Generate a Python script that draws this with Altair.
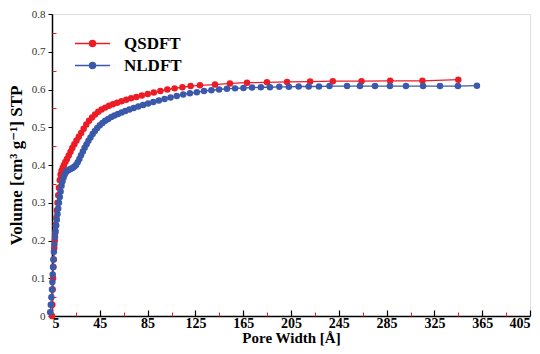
import altair as alt
import pandas as pd

# QSDFT (red) cumulative pore volume
q_x = [5.0, 5.3, 5.6, 5.9, 6.2, 6.5, 6.9, 7.3, 7.7, 8.1, 8.6, 9.1, 9.6, 10.2, 10.8,
       11.5, 12.2, 13.0, 14.0, 15.0, 16.2, 17.5, 19.0, 20.5, 22.0, 23.7, 25.5, 27.4,
       29.4, 31.5, 33.7, 36.0, 38.5, 41.0, 43.7, 46.5, 49.5, 52.7, 56.0, 59.5, 63.2,
       67.1, 71.2, 75.6, 80.2, 85.1, 90.2, 95.7, 101.5, 107.6, 114.1, 121.0, 128.8,
       141.4, 153.9, 168.2, 184.9, 201.7, 221.0, 240.0, 264.0, 288.0, 315.0, 345.0]
q_v = [0.0, 0.03, 0.07, 0.10, 0.13, 0.15, 0.18, 0.20, 0.22, 0.24, 0.26, 0.28, 0.30, 0.32, 0.34,
       0.36, 0.375, 0.385, 0.393, 0.40, 0.408, 0.416, 0.425, 0.435, 0.445, 0.455, 0.465, 0.475,
       0.485, 0.496, 0.507, 0.517, 0.526, 0.534, 0.541, 0.547, 0.552, 0.557, 0.561, 0.565, 0.569,
       0.573, 0.577, 0.580, 0.584, 0.588, 0.592, 0.596, 0.600, 0.603, 0.606, 0.609, 0.611,
       0.613, 0.616, 0.618, 0.619, 0.620, 0.621, 0.622, 0.622, 0.623, 0.623, 0.626]

# NLDFT (blue)
n_x = [3.5, 4.0, 4.5, 5.0, 5.3, 5.6, 5.9, 6.2, 6.6, 7.0, 7.5, 8.0, 8.5, 9.0, 9.6, 10.2,
       10.8, 11.5, 12.2, 13.0, 13.8, 14.7, 15.6, 16.6, 17.7, 18.8, 20.0, 21.2, 22.5, 23.8,
       25.1, 26.5, 27.9, 29.3, 30.8, 32.3, 33.9, 35.5, 37.2, 39.0, 40.9, 42.9, 45.0, 47.2,
       49.5, 52.0, 54.6, 57.3, 60.2, 63.2, 66.4, 69.8, 73.4, 77.2, 81.2, 85.4, 89.8, 94.4,
       99.2, 104.2, 109.4, 114.8, 120.4, 126.2, 132.2, 138.4, 144.8, 151.4, 158.2, 165.2,
       172.4, 179.8, 187.4, 195.2, 203.2, 211.4, 219.8, 228.4, 237.2, 251.9, 262.7, 275.3,
       287.8, 301.2, 315.5, 329.7, 344.7, 360.6]
n_v = [0.01, 0.03, 0.05, 0.07, 0.09, 0.11, 0.13, 0.15, 0.17, 0.19, 0.21, 0.225, 0.24, 0.255,
       0.27, 0.285, 0.30, 0.315, 0.33, 0.345, 0.357, 0.367, 0.375, 0.381, 0.385, 0.387, 0.389,
       0.391, 0.393, 0.396, 0.40, 0.407, 0.416, 0.426, 0.436, 0.446, 0.455, 0.464, 0.473, 0.482,
       0.490, 0.498, 0.505, 0.511, 0.517, 0.522, 0.527, 0.531, 0.535, 0.539, 0.543, 0.547,
       0.551, 0.555, 0.559, 0.563, 0.567, 0.571, 0.575, 0.579, 0.583, 0.587, 0.590, 0.593,
       0.596, 0.598, 0.600, 0.602, 0.603, 0.604, 0.605, 0.606, 0.606, 0.607, 0.607, 0.608,
       0.608, 0.608, 0.609, 0.609, 0.609, 0.609, 0.609, 0.609, 0.609, 0.609, 0.609, 0.610]

series_names = ["QSDFT", "NLDFT"]
series_colors = ["#ED1C24", "#3B59AA"]

x_major = [5, 45, 85, 125, 165, 205, 245, 285, 325, 365, 405]
x_minor = [25, 65, 105, 145, 185, 225, 265, 305, 345, 385]
y_major = [0, 0.1, 0.2, 0.3, 0.4, 0.5, 0.6, 0.7, 0.8]
y_minor = [0.05, 0.15, 0.25, 0.35, 0.45, 0.55, 0.65, 0.75]

df = pd.concat([
    pd.DataFrame({"x": q_x, "v": q_v, "s": "QSDFT"}),
    pd.DataFrame({"x": n_x, "v": n_v, "s": "NLDFT"}),
])

SERIF = "Times New Roman, Liberation Serif, DejaVu Serif, serif"
xscale = alt.Scale(domain=[5, 405], nice=False, zero=False)
yscale = alt.Scale(domain=[0, 0.8], nice=False, zero=False)
cscale = alt.Scale(domain=series_names, range=series_colors)

legend = alt.Legend(
    title=None, orient="none", legendX=22, legendY=22,
    symbolType="M-1,0H1M0.17,0A0.17,0.17 0 1,1 -0.17,0A0.17,0.17 0 1,1 0.17,0Z",
    symbolSize=1225, symbolStrokeWidth=1.5, clipHeight=15, rowPadding=4,
    labelFont=SERIF, labelFontWeight="bold", labelFontSize=17, labelColor="black",
    labelOffset=13)
color = alt.Color("s:N", scale=cscale, sort=series_names, legend=legend)

base = alt.Chart(df)

lines = base.mark_line(strokeWidth=1.3).encode(
    x=alt.X("x:Q", scale=xscale, axis=alt.Axis(
        values=x_major, title="Pore Width [Å]", ticks=False, grid=False,
        domainColor="black", domainWidth=1.5, labelFont=SERIF, labelFontWeight="bold",
        labelFontSize=14, labelColor="black", labelPadding=0, titleFont=SERIF,
        titleFontWeight="bold", titleFontSize=15, titleColor="black", titlePadding=0)),
    y=alt.Y("v:Q", scale=yscale, axis=alt.Axis(
        values=y_major, title="Volume [cm³ g⁻¹] STP", tickSize=4, tickColor="black",
        grid=False, domainColor="black", domainWidth=1.5, labelFont=SERIF,
        labelFontSize=11, labelColor="#333333", labelPadding=3,
        labelExpr="datum.value == 0 ? '0' : format(datum.value, '.1f')",
        titleFont=SERIF, titleFontWeight="bold", titleFontSize=17, titleColor="black",
        titlePadding=6)),
    color=color,
    detail="s:N",
)

points = base.mark_point(filled=True, shape="circle", size=42, opacity=1).encode(
    x=alt.X("x:Q", scale=xscale, axis=alt.Axis(
        values=x_major, orient="bottom", offset=-6, tickSize=6, tickColor="black",
        tickWidth=1.2, labels=False, domain=False, grid=False, title=None)),
    y=alt.Y("v:Q", scale=yscale, axis=alt.Axis(
        values=y_minor, orient="left", offset=-4, tickSize=4, tickColor="#ED1C24",
        labels=False, domain=False, grid=False, title=None)),
    color=color,
)

minor_x = base.mark_point(opacity=0).encode(
    x=alt.X("x:Q", scale=xscale, axis=alt.Axis(
        values=x_minor, orient="bottom", offset=-4, tickSize=4, tickColor="#ED1C24",
        labels=False, domain=False, grid=False, title=None)),
    y=alt.Y("v:Q", scale=yscale, axis=None),
)

chart = alt.layer(lines, points, minor_x).resolve_axis(
    x="independent", y="independent"
).properties(
    width=478, height=302, autosize=alt.AutoSizeParams(type="none"),
    padding={"left": 44, "top": 6, "right": 2, "bottom": 30},
).configure_view(stroke="black", strokeWidth=1.5).configure(background="white")

chart.save("out.html", embed_options={"renderer": "svg", "actions": False})
